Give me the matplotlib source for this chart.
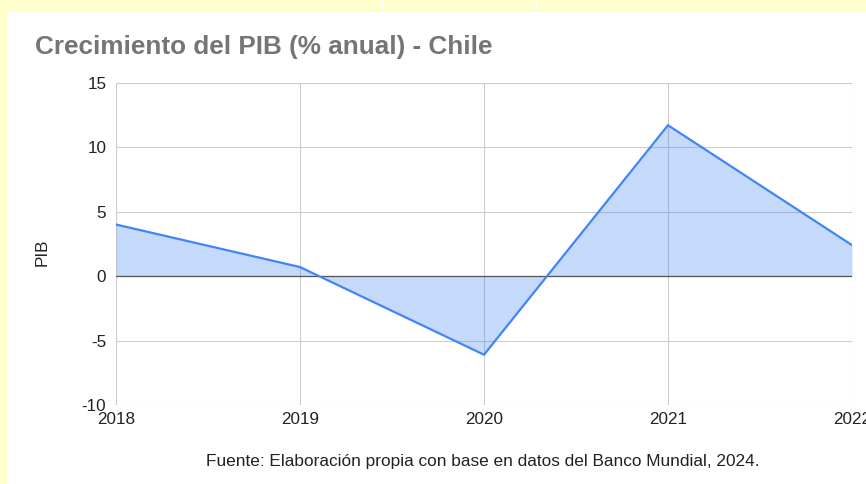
import matplotlib.pyplot as plt
from matplotlib.patches import Rectangle

plt.rcParams['font.family'] = ['Liberation Sans', 'DejaVu Sans']

# datos
years = [2018, 2019, 2020, 2021, 2022]
pib = [4.0, 0.7, -6.1, 11.7, 2.4]
y_ticks = [-10, -5, 0, 5, 10, 15]
title = "Crecimiento del PIB (% anual) - Chile"
source = "Fuente: Elaboración propia con base en datos del Banco Mundial, 2024."

W, H = 866, 484
fig = plt.figure(figsize=(W / 100, H / 100), dpi=100)
fig.patch.set_facecolor('#ffffcc')

# white page area
fig.patches.append(Rectangle((7 / W, 0), 1, 1 - 12 / H, transform=fig.transFigure,
                             facecolor='white', edgecolor='none', zorder=-2))
# thin cell borders at the very top
for xx in (382, 536):
    fig.patches.append(Rectangle((xx / W, 1 - 12 / H), 1.2 / W, 12 / H, transform=fig.transFigure,
                                 facecolor='white', edgecolor='none', zorder=-2))

ax = fig.add_axes([116 / W, 1 - 405 / H, (852 - 116) / W, (405 - 82.7) / H])
ax.set_facecolor('white')

ax.fill_between(years, pib, 0, color='#4285f4', alpha=0.3, linewidth=0, zorder=2)
ax.plot(years, pib, color='#4285f4', linewidth=1.6, zorder=3, solid_joinstyle='miter')
ax.axhline(0, color='#555555', linewidth=0.9, zorder=2.5)

ax.set_xlim(2018, 2022)
ax.set_ylim(-10, 15)
ax.set_xticks(years)
ax.set_xticklabels([str(y) for y in years])
ax.set_yticks(y_ticks)
ax.set_yticklabels([str(v) for v in y_ticks])  # hyphen, not unicode minus
ax.grid(True, color='#cccccc', linewidth=0.8, zorder=1)
ax.set_axisbelow(True)
for s in ax.spines.values():
    s.set_visible(False)
ax.tick_params(length=0, labelsize=12.3, colors='#222222')
ax.tick_params(axis='y', pad=7)
ax.tick_params(axis='x', pad=5)
for lbl in ax.get_xticklabels():
    lbl.set_clip_on(False)

fig.text(42 / W, 1 - 252 / H, "PIB", rotation=90, fontsize=12.3, color='#222222',
         ha='center', va='center')
fig.text(35 / W, 1 - 54 / H, title, fontsize=18.8, fontweight='bold', color='#757575',
         ha='left', va='baseline')
fig.text(483 / W, 1 - 466 / H, source, fontsize=12.45, color='#222222',
         ha='center', va='baseline')

fig.savefig('out.png', dpi=100, facecolor=fig.get_facecolor())
